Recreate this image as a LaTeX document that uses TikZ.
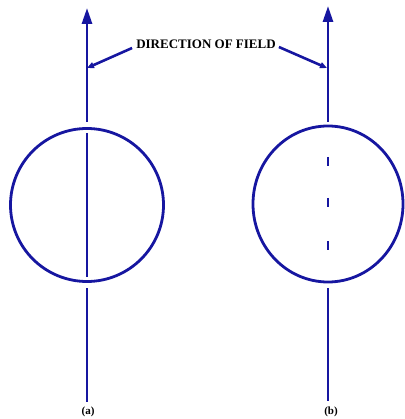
\documentclass[tikz,border=0pt]{standalone}
\usepackage{fontspec}
\setmainfont{Liberation Serif}
\usetikzlibrary{arrows.meta}
\definecolor{fieldblue}{RGB}{22,22,160}
\begin{document}
\begin{tikzpicture}[x=1pt,y=-1pt,
  fline/.style={draw=fieldblue,line width=2.8pt},
  ring/.style={draw=fieldblue,line width=2.8pt},
  bigtip/.style={-{Triangle[length=16pt,width=10pt]}},
  pointer/.style={draw=fieldblue,line width=2.6pt,-{Triangle[length=7pt,width=6pt]}},
  lbl/.style={font=\bfseries\fontsize{13}{14}\selectfont,text=black,inner sep=1pt},
  sub/.style={font=\bfseries\fontsize{11}{12}\selectfont,text=black,inner sep=0pt}]
\useasboundingbox (0,0) rectangle (404,419);
% left (a)
\coordinate (atop) at (87,8);
\coordinate (aup) at (87,122);
\coordinate (ain1) at (87,133);
\coordinate (ain2) at (87,277);
\coordinate (alow) at (87,288);
\coordinate (abot) at (87,402);
\coordinate (ahit) at (87,68);
\draw[ring] (87,205) circle (76.5);
\draw[fline,bigtip] (aup) -- (atop);
\draw[fline] (ain1) -- (ain2);
\draw[fline] (alow) -- (abot);
% right (b)
\coordinate (btop) at (328,6);
\coordinate (bup) at (328,122);
\coordinate (blow) at (328,288);
\coordinate (bbot) at (328,401);
\coordinate (bhit) at (327,68);
\draw[ring] (328,204) ellipse (75 and 78);
\draw[fline,bigtip] (bup) -- (btop);
\draw[fline] (blow) -- (bbot);
\draw[fline] (328,157) -- (328,166);
\draw[fline] (328,198) -- (328,207);
\draw[fline] (328,241) -- (328,250);
% label
\node[lbl] (dir) at (206,44) {DIRECTION OF FIELD};
\draw[pointer] (dir.west) ++(-3,4) -- (ahit);
\draw[pointer] (dir.east) ++(2,3) -- (bhit);
\node[sub] (la) at (88,412) {(a)};
\node[sub] (lb) at (331,412) {(b)};
\end{tikzpicture}
\end{document}
